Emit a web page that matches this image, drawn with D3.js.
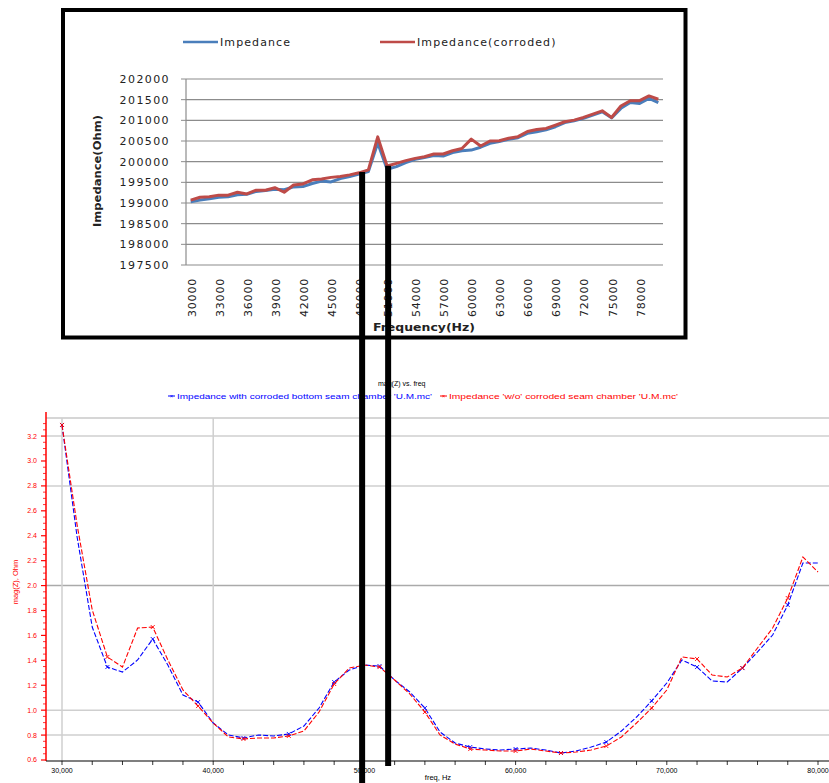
<!DOCTYPE html>
<html><head><meta charset="utf-8">
<script src="https://cdn.jsdelivr.net/npm/d3@7/dist/d3.min.js"></script>
<style>body{margin:0;background:#fff}svg{display:block}</style>
</head><body>
<svg id="c" width="829" height="783"></svg>
<script>
// ---------- top chart data ----------
const topFreq = [30000,31000,32000,33000,34000,35000,36000,37000,38000,39000,
  40000,41000,42000,43000,44000,45000,46000,47000,48000,49000,
  50000,51000,52000,53000,54000,55000,56000,57000,58000,59000,
  60000,61000,62000,63000,64000,65000,66000,67000,68000,69000,
  70000,71000,72000,73000,74000,75000,76000,77000,78000,79000,80000];
const topImpedance = [199030,199070,199100,199140,199150,199200,199210,199280,199300,199330,
  199320,199390,199400,199470,199530,199510,199590,199640,199700,199760,
  200450,199815,199880,199975,200055,200100,200150,200135,200220,200265,
  200280,200350,200445,200490,200540,200580,200685,200725,200770,200845,
  200945,200990,201050,201125,201205,201060,201290,201430,201410,201530,201430];
const topCorroded = [199070,199140,199150,199190,199190,199260,199220,199310,199310,199370,
  199260,199435,199460,199560,199580,199620,199640,199680,199730,199800,
  200600,199895,199960,200025,200080,200120,200185,200185,200265,200320,
  200545,200380,200500,200505,200565,200605,200730,200780,200805,200885,
  200965,201005,201070,201150,201230,201070,201345,201475,201475,201590,201510];
const topYTicks = [197500,198000,198500,199000,199500,200000,200500,201000,201500,202000];
const topXTickLabels = [30000,33000,36000,39000,42000,45000,48000,51000,54000,57000,60000,63000,66000,69000,72000,75000,78000];
const topSeriesNames = ["Impedance","Impedance(corroded)"];

// ---------- bottom chart data ----------
const botFreq = topFreq;
const botImpedance = [3.289,2.390,1.667,1.346,1.306,1.403,1.571,1.362,1.122,1.065,
  0.897,0.801,0.777,0.801,0.793,0.809,0.873,1.017,1.226,1.322,
  1.362,1.354,1.242,1.146,1.017,0.825,0.736,0.704,0.688,0.680,
  0.688,0.696,0.680,0.656,0.672,0.704,0.744,0.833,0.945,1.074,
  1.218,1.403,1.346,1.234,1.226,1.338,1.467,1.603,1.844,2.181,2.181];
const botCorroded = [3.289,2.486,1.804,1.427,1.346,1.659,1.667,1.403,1.162,1.033,
  0.897,0.785,0.769,0.777,0.777,0.793,0.833,0.985,1.210,1.338,
  1.362,1.346,1.242,1.130,0.985,0.801,0.728,0.688,0.680,0.672,
  0.672,0.688,0.672,0.656,0.664,0.680,0.712,0.785,0.897,1.017,
  1.162,1.427,1.411,1.282,1.266,1.338,1.499,1.659,1.900,2.229,2.109];
const botYTicks = [0.6,0.8,1.0,1.2,1.4,1.6,1.8,2.0,2.2,2.4,2.6,2.8,3.0,3.2];
const botYGrid = [0.8,1.0,2.0,2.8,3.2];
const botXTicks = [30000,40000,50000,60000,70000,80000];
const botXMinor = [32000,34000,36000,38000,42000,44000,46000,48000,52000,54000,56000,58000,62000,64000,66000,68000,72000,74000,76000,78000,82000];
const botXGrid = [30000,40000];
const botSeriesNames = ["Impedance  with corroded bottom seam chamber  'U.M.mc'","Impedance  'w/o' corroded seam chamber  'U.M.mc'"];

// annotation markers connecting the two charts
const annotFreq = [49850,51570];
const annotTopValue = [199750,199900];

const svg = d3.select("#c");
const FONT = "DejaVu Sans, Verdana, sans-serif";

// ================= TOP CHART =================
const tx = d3.scaleBand().domain(topFreq).range([186,663]);
const ty = d3.scaleLinear().domain([197500,202000]).range([265,79]);
const tcx = f => tx(f) + tx.bandwidth()/2;

const gTop = svg.append("g");
// gridlines
gTop.selectAll("line.tg").data(topYTicks).join("line")
  .attr("x1",186).attr("x2",663).attr("y1",d=>ty(d)).attr("y2",d=>ty(d))
  .attr("stroke","#8c8c8c").attr("stroke-width",1.2);
// y axis
gTop.append("line").attr("x1",186).attr("x2",186).attr("y1",ty(202000)).attr("y2",ty(197500))
  .attr("stroke","#8c8c8c").attr("stroke-width",1.2);
gTop.selectAll("line.tt").data(topYTicks).join("line")
  .attr("x1",181).attr("x2",186).attr("y1",d=>ty(d)).attr("y2",d=>ty(d))
  .attr("stroke","#8c8c8c");
gTop.selectAll("text.yl").data(topYTicks).join("text")
  .attr("x",170).attr("y",d=>ty(d)).attr("dy","0.36em").attr("text-anchor","end")
  .attr("font-family",FONT).attr("font-size",11).attr("letter-spacing",1.4).attr("fill","#222")
  .text(d=>d);
gTop.selectAll("text.xl").data(topXTickLabels).join("text")
  .attr("transform",d=>`translate(${tcx(d)+1},278) rotate(-90)`)
  .attr("dy","0.36em").attr("text-anchor","end")
  .attr("font-family",FONT).attr("font-size",11).attr("letter-spacing",0.8).attr("fill","#222")
  .text(d=>d);
// axis titles
gTop.append("text").attr("transform","translate(101,171) rotate(-90)").attr("text-anchor","middle")
  .attr("font-family",FONT).attr("font-size",11).attr("font-weight","bold").attr("fill","#222")
  .attr("textLength",112).attr("lengthAdjust","spacingAndGlyphs").text("Impedance(Ohm)");
gTop.append("text").attr("x",424).attr("y",331).attr("text-anchor","middle")
  .attr("font-family",FONT).attr("font-size",11).attr("font-weight","bold").attr("fill","#222")
  .attr("textLength",102).attr("lengthAdjust","spacingAndGlyphs").text("Frequency(Hz)");
// lines
const topColors = ["#4a7ebb","#be4b48"];
const tline = d3.line().x((d,i)=>tcx(topFreq[i])).y(d=>ty(d));
[topImpedance, topCorroded].forEach((s,k)=>{
  gTop.append("path").attr("d",tline(s)).attr("fill","none")
    .attr("stroke",topColors[k]).attr("stroke-width",3).attr("stroke-linejoin","round");
});
// legend
const legX = [183,380];
topSeriesNames.forEach((n,k)=>{
  gTop.append("line").attr("x1",legX[k]).attr("x2",legX[k]+35).attr("y1",42).attr("y2",42)
    .attr("stroke",topColors[k]).attr("stroke-width",2.5);
  gTop.append("text").attr("x",legX[k]+37).attr("y",46).attr("font-family",FONT).attr("font-size",11)
    .attr("letter-spacing",1.1).attr("fill","#222").text(n);
});
// frame
svg.append("rect").attr("x",63).attr("y",10).attr("width",622.5).attr("height",327.5)
  .attr("fill","none").attr("stroke","#000").attr("stroke-width",4);

// ================= BOTTOM CHART =================
const bx = d3.scaleLinear().domain([30000,80000]).range([62,818]);
const by = d3.scaleLinear().domain([0.6,3.345]).range([760,418]);
const gB = svg.append("g");
const BF = "Liberation Sans, Arial, sans-serif";

// top border grid
gB.append("line").attr("x1",46).attr("x2",829).attr("y1",by(3.345)).attr("y2",by(3.345))
  .attr("stroke","#c8c8c8").attr("stroke-width",1.5);
gB.selectAll("line.hg").data(botYGrid).join("line")
  .attr("x1",46).attr("x2",829).attr("y1",d=>by(d)).attr("y2",d=>by(d))
  .attr("stroke",d=>d===2.0?"#aaaaaa":"#cfcfcf").attr("stroke-width",1.5);
gB.selectAll("line.vg").data(botXGrid).join("line")
  .attr("x1",d=>bx(d)).attr("x2",d=>bx(d)).attr("y1",by(3.345)).attr("y2",761)
  .attr("stroke","#cfcfcf").attr("stroke-width",1.5);

// left axis (red)
gB.append("line").attr("x1",46).attr("x2",46).attr("y1",412).attr("y2",761)
  .attr("stroke","#ff0000").attr("stroke-width",1.5);
gB.selectAll("line.ym").data(botYTicks).join("line")
  .attr("x1",41).attr("x2",46).attr("y1",d=>by(d)).attr("y2",d=>by(d))
  .attr("stroke","#ff0000").attr("stroke-width",1.2);
const minorY = d3.range(0.6,3.34,0.05).filter(v=>Math.abs((v*10)%2)>0.01 && Math.abs((v*10)%2-2)>0.01);
gB.selectAll("line.ymi").data(minorY).join("line")
  .attr("x1",43).attr("x2",46).attr("y1",d=>by(d)).attr("y2",d=>by(d))
  .attr("stroke","#ff0000").attr("stroke-width",0.8);
gB.selectAll("text.byl").data(botYTicks).join("text")
  .attr("x",37).attr("y",d=>by(d)).attr("dy","0.35em").attr("text-anchor","end")
  .attr("font-family",BF).attr("font-size",7).attr("fill","#ff0000").text(d=>d3.format(".1f")(d));
gB.append("text").attr("transform","translate(18,582) rotate(-90)").attr("text-anchor","middle")
  .attr("font-family",BF).attr("font-size",7.5).attr("fill","#ff0000").text("mag(Z), Ohm");

// bottom axis
gB.append("line").attr("x1",46).attr("x2",829).attr("y1",761).attr("y2",761)
  .attr("stroke","#000").attr("stroke-width",1.2);
gB.selectAll("line.xt").data(botXTicks.concat(botXMinor)).join("line")
  .attr("x1",d=>bx(d)).attr("x2",d=>bx(d)).attr("y1",761).attr("y2",765)
  .attr("stroke","#000").attr("stroke-width",0.8);
gB.selectAll("text.bxl").data(botXTicks).join("text")
  .attr("x",d=>bx(d)).attr("y",773).attr("text-anchor","middle")
  .attr("font-family",BF).attr("font-size",7).attr("fill","#000").text(d=>d3.format(",")(d));
gB.append("text").attr("x",438).attr("y",780).attr("text-anchor","middle")
  .attr("font-family",BF).attr("font-size",7.5).attr("fill","#000").text("freq, Hz");

// title + legend
gB.append("text").attr("x",378).attr("y",386).attr("font-family",BF).attr("font-size",7)
  .attr("fill","#000").text("mag(Z) vs. freq");
const botColors = ["#0000ff","#ff0000"];
const bLegX = [168,440], bLegW = [264,238];
botSeriesNames.forEach((n,k)=>{
  gB.append("line").attr("x1",bLegX[k]).attr("x2",bLegX[k]+7).attr("y1",396).attr("y2",396)
    .attr("stroke",botColors[k]).attr("stroke-width",1);
  gB.append("text").attr("x",bLegX[k]+3.5).attr("y",396).attr("dy","0.35em").attr("text-anchor","middle")
    .attr("font-family",BF).attr("font-size",6).attr("fill",botColors[k]).text("×");
  gB.append("text").attr("x",bLegX[k]+9).attr("y",398.5).attr("font-family",BF).attr("font-size",6.5)
    .attr("fill",botColors[k]).attr("textLength",bLegW[k]-9).attr("lengthAdjust","spacingAndGlyphs").text(n);
});

// curves
const bline = d3.line().x((d,i)=>bx(botFreq[i])).y(d=>by(d));
[botImpedance, botCorroded].forEach((s,k)=>{
  gB.append("path").attr("d",bline(s)).attr("fill","none")
    .attr("stroke",botColors[k]).attr("stroke-width",1.1).attr("stroke-dasharray","5,2");
  const pts = s.map((v,i)=>({f:botFreq[i],v})).filter((d,i)=>i%3===0);
  gB.selectAll(null).data(pts).join("path")
    .attr("d",d=>{const x=bx(d.f),y=by(d.v),r=2;return `M${x-r},${y-r}L${x+r},${y+r}M${x-r},${y+r}L${x+r},${y-r}`;})
    .attr("stroke",botColors[k]).attr("stroke-width",0.9);
});

// ================= ANNOTATION BARS =================
const barEnds = [783,766];
annotFreq.forEach((f,k)=>{
  svg.append("line").attr("x1",bx(f)).attr("x2",bx(f))
    .attr("y1",ty(annotTopValue[k])).attr("y2",barEnds[k])
    .attr("stroke","#000").attr("stroke-width",6).attr("stroke-linecap","butt");
});
</script>
</body></html>
